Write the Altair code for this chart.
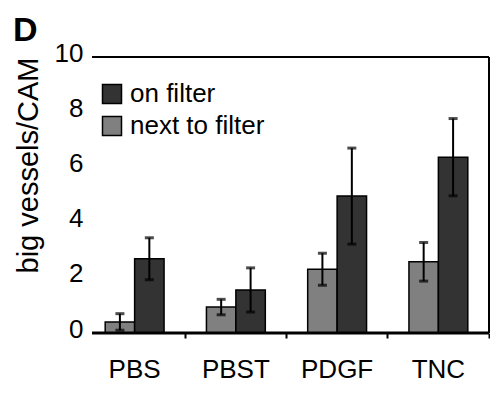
import altair as alt
import pandas as pd

categories = ["PBS", "PBST", "PDGF", "TNC"]
next_vals = [0.40, 0.94, 2.31, 2.58]
next_err = [0.30, 0.28, 0.58, 0.70]
on_vals = [2.69, 1.56, 4.96, 6.37]
on_err = [0.76, 0.80, 1.74, 1.40]
series = ["on filter", "next to filter"]
colors = ["#333333", "#808080"]
y_ticks = [0, 2, 4, 6, 8, 10]

rows = []
for c, v, e in zip(categories, next_vals, next_err):
    rows.append({"cat": c, "series": "next to filter", "v": v, "lo": v - e, "hi": v + e})
for c, v, e in zip(categories, on_vals, on_err):
    rows.append({"cat": c, "series": "on filter", "v": v, "lo": v - e, "hi": v + e})
df = pd.DataFrame(rows)

FONT = "Liberation Sans, Arial, sans-serif"
W, H = 405, 276

x_enc = alt.X("cat:N", sort=categories,
              scale=alt.Scale(paddingInner=0, paddingOuter=0),
              axis=alt.Axis(title=None, labelAngle=0, domain=False, bandPosition=1,
                            tickSize=5, tickWidth=2, tickColor="black",
                            labelOffset=0, labelPadding=18, labelFontSize=26,
                            labelFont=FONT, labelColor="black"))
xoff = alt.XOffset("series:N", sort=["next to filter", "on filter"],
                   scale=alt.Scale(paddingInner=0, paddingOuter=0.72))
y_scale = alt.Scale(domain=[0, 10], nice=False)

bars = alt.Chart(df).mark_bar(stroke="black", strokeWidth=1.5).encode(
    x=x_enc,
    xOffset=xoff,
    y=alt.Y("v:Q", scale=y_scale,
            axis=alt.Axis(title="big  vessels/CAM", values=y_ticks, domain=False, ticks=False,
                          grid=False, labelFontSize=26, labelFont=FONT, labelColor="black",
                          labelPadding=1, labelOffset=-4,
                          titleFontSize=29, titleFont=FONT, titleFontWeight="normal",
                          titleColor="black", titleX=-41, titleY=108, titleBaseline="bottom")),
    color=alt.Color("series:N", scale=alt.Scale(domain=series, range=colors),
                    legend=alt.Legend(title=None, orient="none", legendX=15, legendY=24,
                                      symbolType="square", symbolSize=361,
                                      symbolStrokeColor="black", symbolStrokeWidth=1.5,
                                      labelFontSize=26, labelFont=FONT, labelColor="black",
                                      labelOffset=5, rowPadding=6, padding=0)),
)

err = alt.Chart(df).mark_rule(color="black", strokeWidth=2).encode(
    x=x_enc, xOffset=xoff, y=alt.Y("lo:Q", scale=y_scale), y2="hi:Q"
)
cap_lo = alt.Chart(df).mark_tick(color="black", thickness=3, size=9).encode(
    x=x_enc, xOffset=xoff, y=alt.Y("lo:Q", scale=y_scale)
)
cap_hi = alt.Chart(df).mark_tick(color="black", thickness=3, size=9).encode(
    x=x_enc, xOffset=xoff, y=alt.Y("hi:Q", scale=y_scale)
)

one = pd.DataFrame({"k": [0]})
frame_top = alt.Chart(one).mark_rule(color="black", strokeWidth=2).encode(
    x=alt.value(8), x2=alt.value(W), y=alt.value(0))
frame_right = alt.Chart(one).mark_rule(color="black", strokeWidth=2).encode(
    x=alt.value(W), y=alt.value(0), y2=alt.value(H))
frame_bottom = alt.Chart(one).mark_rule(color="black", strokeWidth=3).encode(
    x=alt.value(8), x2=alt.value(W), y=alt.value(H))
panel = alt.Chart(one).mark_text(text="D", fontSize=34, fontWeight="bold", font=FONT,
                                 align="left", baseline="alphabetic", color="black").encode(
    x=alt.value(-71), y=alt.value(-16))

chart = alt.layer(bars, err, cap_lo, cap_hi, frame_top, frame_right, frame_bottom, panel).properties(
    width=W, height=H, autosize="none",
    padding={"left": 76, "top": 49, "right": 1, "bottom": 50},
).configure_view(stroke=None)

chart.save("out.html", embed_options={"renderer": "svg", "actions": False})
